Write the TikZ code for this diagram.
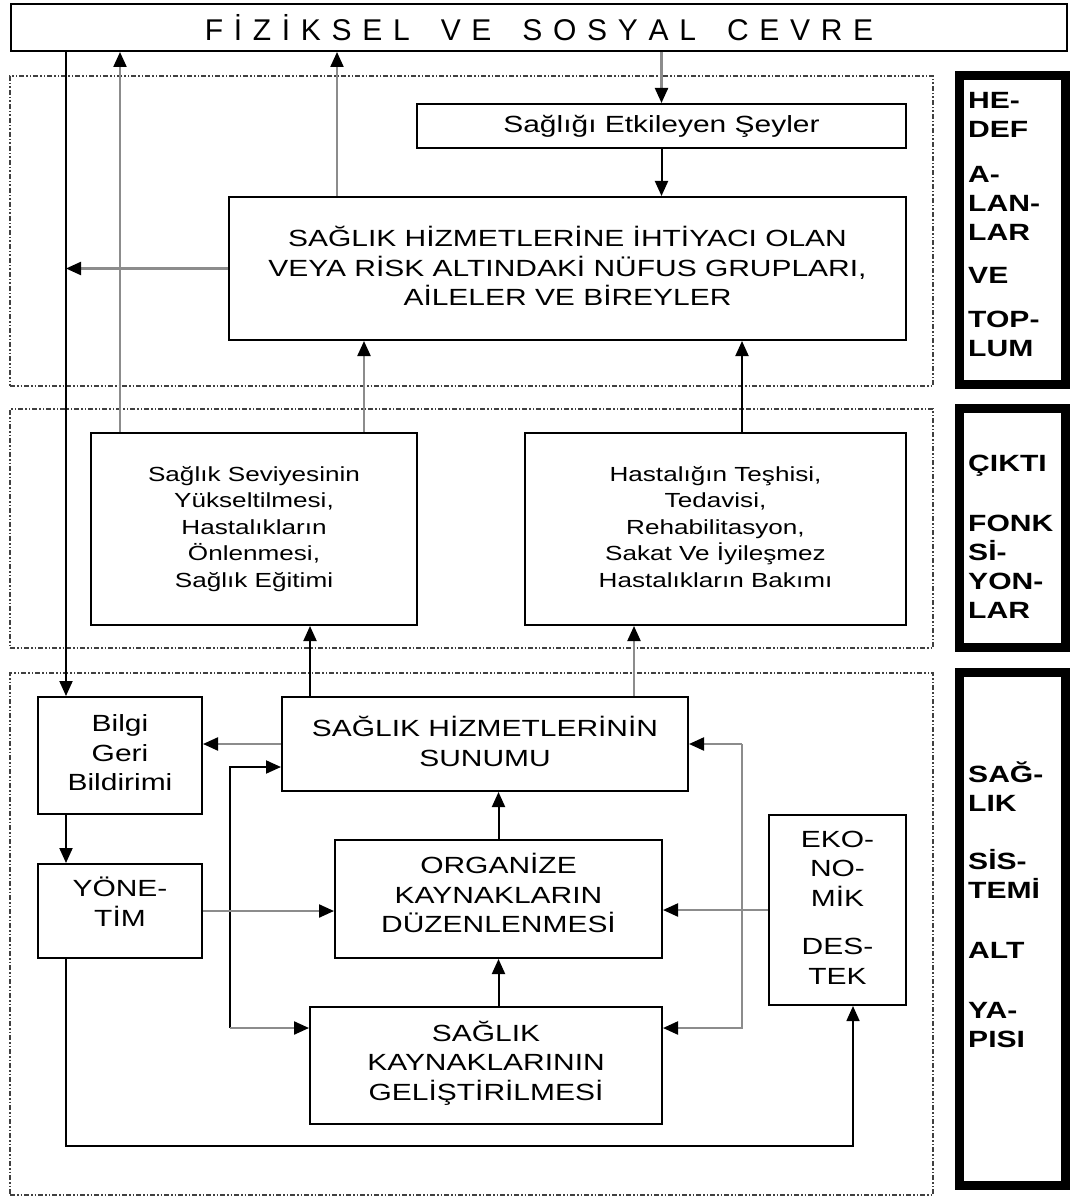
\documentclass[tikz,border=0pt]{standalone}
\usepackage{fontspec}
\setmainfont{Liberation Sans}[FakeStretch=1.28]
\newfontfamily\plainfont{Liberation Sans}
\usetikzlibrary{arrows.meta}
\newcommand{\lk}{\kern10.7pt}
\newcommand{\wk}{\kern31pt}
\begin{document}
\begin{tikzpicture}[x=1pt,y=-1pt,
  box/.style={draw=black,line width=2pt,fill=white,inner sep=0pt,align=center,text depth=5pt,font=\fontsize{23.4}{29.5}\selectfont},
  smalltext/.style={font=\fontsize{20.4}{26.5}\selectfont},
  region/.style={draw=black!75,line width=1.4pt,dash pattern=on 5pt off 2pt on 1.5pt off 2pt on 1.5pt off 2pt,inner sep=0pt},
  sidebox/.style={draw=black,line width=9pt,inner sep=0pt},
  sidetext/.style={font=\bfseries\fontsize{23.5}{29}\selectfont,align=left,inner sep=0pt,anchor=north west},
  blk/.style={draw=black,line width=2pt},
  gry/.style={draw=black!45,line width=2.2pt},
  arr/.style={-{Triangle[length=15pt,width=13pt,color=black]}}
]
\path[fill=white] (0,0) rectangle (1070,1198);
\useasboundingbox (0,0) rectangle (1070,1198);

% regions
\node[region,minimum width=923,minimum height=310] (r1) at (471.5,231) {};
\node[region,minimum width=923,minimum height=239] (r2) at (471.5,528.5) {};
\node[region,minimum width=923,minimum height=522] (r3) at (471.5,934) {};

% side boxes
\node[sidebox,minimum width=106,minimum height=309] (sa) at (1012.5,230) {};
\node[sidebox,minimum width=106,minimum height=239] (sb) at (1012.5,528) {};
\node[sidebox,minimum width=106,minimum height=513] (sc) at (1012.5,929) {};
\node[sidetext] (ta) at (968,88.4) {\rule{0pt}{20pt}HE-\\DEF\\[15.5pt]A-\\LAN-\\LAR\\[14.5pt]VE\\[15pt]TOP-\\LUM};
\node[sidetext] (tb) at (968,451.4) {\rule{0pt}{20pt}ÇIKTI\\[30.5pt]FONK\\Sİ-\\YON-\\LAR};
\node[sidetext] (tc) at (968,761.4) {\rule{0pt}{20pt}SAĞ-\\LIK\\[29pt]SİS-\\TEMİ\\[31pt]ALT\\[31pt]YA-\\PISI};

% top box
\node[draw=black,line width=2pt,inner sep=0pt,minimum width=1056,minimum height=47,font=\plainfont\fontsize{30}{34}\selectfont] (top) at (539,27.5) {F\lk İ\lk Z\lk İ\lk K\lk S\lk E\lk L\wk V\lk E\wk S\lk O\lk S\lk Y\lk A\lk L\wk C\lk E\lk V\lk R\lk E};

% boxes
\node[box,minimum width=489,minimum height=44] (sag) at (661.5,126) {Sağlığı Etkileyen Şeyler};
\node[box,minimum width=677,minimum height=143] (pop) at (567.5,268.5) {SAĞLIK HİZMETLERİNE İHTİYACI OLAN\\VEYA RİSK ALTINDAKİ NÜFUS GRUPLARI,\\AİLELER VE BİREYLER};
\node[box,smalltext,minimum width=326,minimum height=192] (prom) at (254,529) {Sağlık Seviyesinin\\Yükseltilmesi,\\Hastalıkların\\Önlenmesi,\\Sağlık Eğitimi};
\node[box,smalltext,minimum width=381,minimum height=192] (treat) at (715.5,529) {Hastalığın Teşhisi,\\Tedavisi,\\Rehabilitasyon,\\Sakat Ve İyileşmez\\Hastalıkların Bakımı};
\node[box,minimum width=164,minimum height=117] (bilgi) at (120,755.5) {Bilgi\\Geri\\Bildirimi};
\node[box,minimum width=406,minimum height=94] (sun) at (485,744) {SAĞLIK HİZMETLERİNİN\\SUNUMU};
\node[box,text depth=19pt,minimum width=164,minimum height=94] (yon) at (120,911) {YÖNE-\\TİM};
\node[box,text depth=12pt,minimum width=327,minimum height=118] (org) at (498.5,899) {ORGANİZE\\KAYNAKLARIN\\DÜZENLENMESİ};
\node[box,minimum width=137,minimum height=190] (eko) at (837.5,910) {EKO-\\NO-\\MİK\\[19pt]DES-\\TEK};
\node[box,text depth=10pt,minimum width=352,minimum height=117] (gel) at (486,1065.5) {SAĞLIK\\KAYNAKLARININ\\GELİŞTİRİLMESİ};

% helper coordinates
\coordinate (x66) at (66,0);
\coordinate (x120) at (120,0);
\coordinate (x337) at (337,0);
\coordinate (x364) at (364,0);
\coordinate (x742) at (742,0);
\coordinate (x310) at (310,0);
\coordinate (x634) at (634,0);
\coordinate (l1) at (230,767);
\coordinate (l2) at (230,1028);
\coordinate (q1) at (742,744);
\coordinate (q2) at (742,1028);
\coordinate (b1) at (853,1146);

% connectors
\draw[blk,arr] (x66 |- top.south) -- (x66 |- bilgi.north);
\draw[gry,arr] (x120 |- prom.north) -- (x120 |- top.south);
\draw[gry,arr] (x337 |- pop.north) -- (x337 |- top.south);
\draw[gry,arr] (top.south -| sag.north) -- (sag.north);
\draw[blk,arr] (sag.south) -- (sag.south |- pop.north);
\draw[gry,arr] (pop.west) -- (x66 |- pop.west);
\draw[gry,arr] (x364 |- prom.north) -- (x364 |- pop.south);
\draw[blk,arr] (x742 |- treat.north) -- (x742 |- pop.south);
\draw[blk,arr] (x310 |- sun.north) -- (x310 |- prom.south);
\draw[gry,arr] (x634 |- sun.north) -- (x634 |- treat.south);
\draw[gry,arr] (sun.west) -- (bilgi.east |- sun.west);
\draw[blk,arr] (x66 |- bilgi.south) -- (x66 |- yon.north);
\draw[blk,arr] (l2) -- (l1) -- (l1 -| sun.west);
\draw[gry,arr] (l2) -- (l2 -| gel.west);
\draw[gry,arr] (q1) -- (q1 -| sun.east);
\draw[gry,arr] (q1) -- (q2) -- (q2 -| gel.east);
\draw[gry,arr] (yon.east) -- (org.west |- yon.east);
\draw[gry,arr] (eko.west) -- (org.east |- eko.west);
\draw[blk,arr] (org.north) -- (org.north |- sun.south);
\draw[blk,arr] (org.south |- gel.north) -- (org.south);
\draw[blk,line width=1.6pt,arr] (x66 |- yon.south) |- (b1) -- (b1 |- eko.south);
\end{tikzpicture}
\end{document}
